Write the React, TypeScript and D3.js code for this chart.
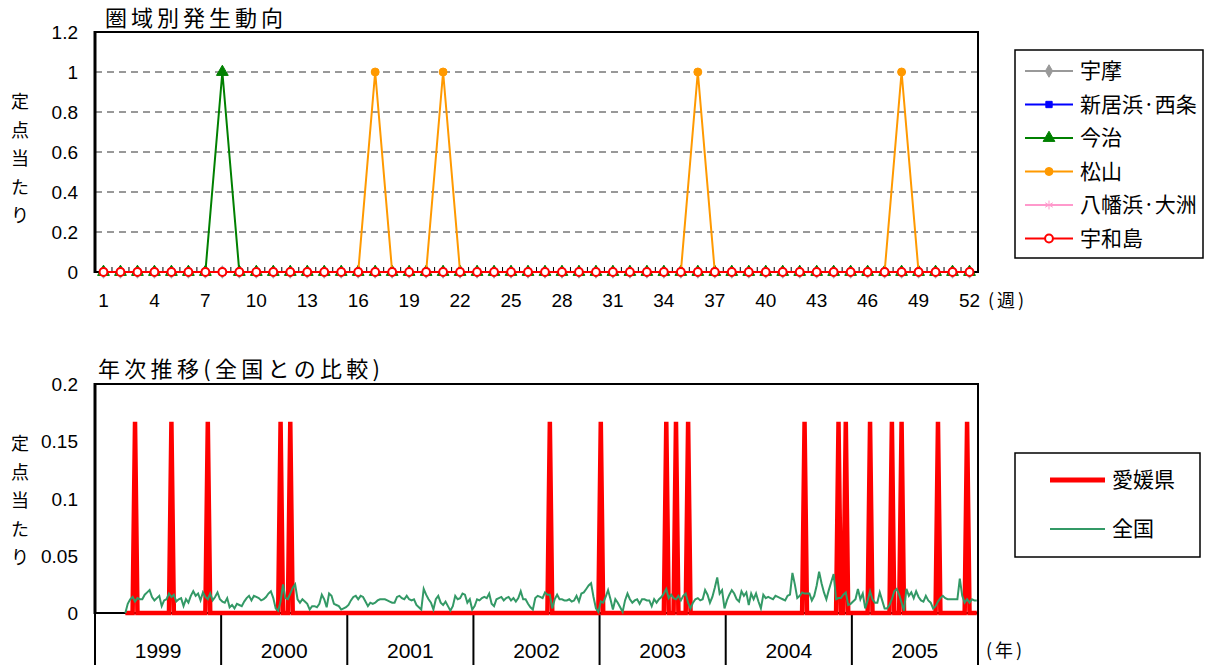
import React from "react";
import * as d3 from "d3";

const JP = "'Noto Sans CJK JP', sans-serif";
const NUM = "'Liberation Sans', Arial, sans-serif";

// ---- top chart: weekly by region (2005) ----
const weeks = d3.range(1, 53);
const weekTicks = [1, 4, 7, 10, 13, 16, 19, 22, 25, 28, 31, 34, 37, 40, 43, 46, 49, 52];
const topYTicks = [0, 0.2, 0.4, 0.6, 0.8, 1, 1.2];

const uma = [
  0, 0, 0, 0, 0, 0, 0, 0, 0, 0, 0, 0, 0,
  0, 0, 0, 0, 0, 0, 0, 0, 0, 0, 0, 0, 0,
  0, 0, 0, 0, 0, 0, 0, 0, 0, 0, 0, 0, 0,
  0, 0, 0, 0, 0, 0, 0, 0, 0, 0, 0, 0, 0,
];
const niihama = [
  0, 0, 0, 0, 0, 0, 0, 0, 0, 0, 0, 0, 0,
  0, 0, 0, 0, 0, 0, 0, 0, 0, 0, 0, 0, 0,
  0, 0, 0, 0, 0, 0, 0, 0, 0, 0, 0, 0, 0,
  0, 0, 0, 0, 0, 0, 0, 0, 0, 0, 0, 0, 0,
];
const imabari = [
  0, 0, 0, 0, 0, 0, 0, 1, 0, 0, 0, 0, 0,
  0, 0, 0, 0, 0, 0, 0, 0, 0, 0, 0, 0, 0,
  0, 0, 0, 0, 0, 0, 0, 0, 0, 0, 0, 0, 0,
  0, 0, 0, 0, 0, 0, 0, 0, 0, 0, 0, 0, 0,
];
const matsuyama = [
  0, 0, 0, 0, 0, 0, 0, 0, 0, 0, 0, 0, 0,
  0, 0, 0, 1, 0, 0, 0, 1, 0, 0, 0, 0, 0,
  0, 0, 0, 0, 0, 0, 0, 0, 0, 1, 0, 0, 0,
  0, 0, 0, 0, 0, 0, 0, 0, 1, 0, 0, 0, 0,
];
const yawatahama = [
  0, 0, 0, 0, 0, 0, 0, 0, 0, 0, 0, 0, 0,
  0, 0, 0, 0, 0, 0, 0, 0, 0, 0, 0, 0, 0,
  0, 0, 0, 0, 0, 0, 0, 0, 0, 0, 0, 0, 0,
  0, 0, 0, 0, 0, 0, 0, 0, 0, 0, 0, 0, 0,
];
const uwajima = [
  0, 0, 0, 0, 0, 0, 0, 0, 0, 0, 0, 0, 0,
  0, 0, 0, 0, 0, 0, 0, 0, 0, 0, 0, 0, 0,
  0, 0, 0, 0, 0, 0, 0, 0, 0, 0, 0, 0, 0,
  0, 0, 0, 0, 0, 0, 0, 0, 0, 0, 0, 0, 0,
];

const regions = [
  { name: "宇摩", color: "#999999", fill: "#999999", symbol: d3.symbolDiamond, size: 45, values: uma },
  { name: "新居浜·西条", color: "#0000ff", fill: "#0000ff", symbol: d3.symbolSquare, size: 40, values: niihama },
  { name: "今治", color: "#008000", fill: "#008000", symbol: d3.symbolTriangle, size: 60, values: imabari },
  { name: "松山", color: "#ff9900", fill: "#ff9900", symbol: d3.symbolCircle, size: 50, values: matsuyama },
  { name: "八幡浜·大洲", color: "#ff99cc", fill: "none", symbol: d3.symbolAsterisk, size: 55, values: yawatahama },
  { name: "宇和島", color: "#ff0000", fill: "#ffffff", symbol: d3.symbolCircle, size: 48, values: uwajima },
];

// ---- bottom chart: yearly trend, Ehime vs national ----
const years = ["1999", "2000", "2001", "2002", "2003", "2004", "2005"];
const botYTicks = [0, 0.05, 0.1, 0.15, 0.2];

const ehime1999 = [
  null, null, null, null, null, null, null, null, null, null, null, null, 0,
  0, 0, 0, 0.167, 0, 0, 0, 0, 0, 0, 0, 0, 0,
  0, 0, 0, 0, 0, 0.167, 0, 0, 0, 0, 0, 0, 0,
  0, 0, 0, 0, 0, 0, 0, 0.167, 0, 0, 0, 0, 0,
];
const ehime2000 = [
  0, 0, 0, 0, 0, 0, 0, 0, 0, 0, 0, 0, 0,
  0, 0, 0, 0, 0, 0, 0, 0, 0, 0, 0, 0.167, 0,
  0, 0, 0.167, 0, 0, 0, 0, 0, 0, 0, 0, 0, 0,
  0, 0, 0, 0, 0, 0, 0, 0, 0, 0, 0, 0, 0,
];
const ehime2001 = [
  0, 0, 0, 0, 0, 0, 0, 0, 0, 0, 0, 0, 0,
  0, 0, 0, 0, 0, 0, 0, 0, 0, 0, 0, 0, 0,
  0, 0, 0, 0, 0, 0, 0, 0, 0, 0, 0, 0, 0,
  0, 0, 0, 0, 0, 0, 0, 0, 0, 0, 0, 0, 0,
];
const ehime2002 = [
  0, 0, 0, 0, 0, 0, 0, 0, 0, 0, 0, 0, 0,
  0, 0, 0, 0, 0, 0, 0, 0, 0, 0, 0, 0, 0,
  0, 0, 0, 0, 0, 0.167, 0, 0, 0, 0, 0, 0, 0,
  0, 0, 0, 0, 0, 0, 0, 0, 0, 0, 0, 0, 0,
];
const ehime2003 = [
  0.167, 0, 0, 0, 0, 0, 0, 0, 0, 0, 0, 0, 0,
  0, 0, 0, 0, 0, 0, 0, 0, 0, 0, 0, 0, 0,
  0, 0.167, 0, 0, 0, 0.167, 0, 0, 0, 0, 0.167, 0, 0,
  0, 0, 0, 0, 0, 0, 0, 0, 0, 0, 0, 0, 0,
];
const ehime2004 = [
  0, 0, 0, 0, 0, 0, 0, 0, 0, 0, 0, 0, 0,
  0, 0, 0, 0, 0, 0, 0, 0, 0, 0, 0, 0, 0,
  0, 0, 0, 0, 0, 0, 0.167, 0, 0, 0, 0, 0, 0,
  0, 0, 0, 0, 0, 0, 0, 0.167, 0, 0, 0.167, 0, 0,
];
const ehime2005 = [
  0, 0, 0, 0, 0, 0, 0, 0.167, 0, 0, 0, 0, 0,
  0, 0, 0, 0.167, 0, 0, 0, 0.167, 0, 0, 0, 0, 0,
  0, 0, 0, 0, 0, 0, 0, 0, 0, 0.167, 0, 0, 0,
  0, 0, 0, 0, 0, 0, 0, 0, 0.167, 0, 0, 0, 0,
];

const zenkoku1999 = [
  null, null, null, null, null, null, null, null, null, null, null, null, 0,
  0.008, 0.012, 0.014, 0.010, 0.013, 0.012, 0.012, 0.016, 0.018, 0.020, 0.014, 0.011, 0.013,
  0.015, 0.006, 0.011, 0.012, 0.017, 0.014, 0.016, 0.010, 0.012, 0.013, 0.006, 0.012, 0.009,
  0.015, 0.019, 0.015, 0.017, 0.011, 0.018, 0.014, 0.012, 0.017, 0.011, 0.014, 0.018, 0.012,
];
const zenkoku2000 = [
  0.010, 0.009, 0.013, 0.005, 0.007, 0.004, 0.008, 0.007, 0.006, 0.010, 0.013, 0.015, 0.011,
  0.015, 0.014, 0.013, 0.011, 0.012, 0.014, 0.017, 0.019, 0.013, 0.004, 0.002, 0.010, 0.025,
  0.013, 0.012, 0.017, 0.022, 0.025, 0.012, 0.009, 0.012, 0.010, 0.008, 0.003, 0.006, 0.006,
  0.005, 0.008, 0.016, 0.012, 0.005, 0.017, 0.015, 0.008, 0.007, 0.006, 0.003, 0.004, 0.005,
];
const zenkoku2001 = [
  0.007, 0.011, 0.014, 0.015, 0.012, 0.015, 0.014, 0.010, 0.006, 0.009, 0.008, 0.009, 0.011,
  0.012, 0.012, 0.012, 0.011, 0.010, 0.009, 0.009, 0.014, 0.015, 0.013, 0.012, 0.015, 0.012,
  0.011, 0.012, 0.007, 0.005, 0.003, 0.021, 0.016, 0.012, 0.009, 0.003, 0.012, 0.015, 0.009,
  0.007, 0.010, 0.006, 0.002, 0.006, 0.015, 0.012, 0.013, 0.017, 0.016, 0.009, 0.012, 0.003,
];
const zenkoku2002 = [
  0.006, 0.012, 0.011, 0.013, 0.014, 0.013, 0.017, 0.008, 0.006, 0.012, 0.013, 0.014, 0.011,
  0.013, 0.014, 0.011, 0.013, 0.010, 0.013, 0.019, 0.012, 0.012, 0.008, 0.005, 0.003, 0.013,
  0.015, 0.014, 0.013, 0.018, 0.016, 0.016, 0.004, 0.012, 0.016, 0.012, 0.012, 0.011, 0.011,
  0.012, 0.010, 0.011, 0.015, 0.010, 0.017, 0.018, 0.021, 0.024, 0.026, 0.014, 0.004, 0.001,
];
const zenkoku2003 = [
  0.010, 0.009, 0.014, 0.020, 0.012, 0.003, 0.012, 0.009, 0.005, 0.001, 0.011, 0.017, 0.012,
  0.009, 0.011, 0.012, 0.008, 0.012, 0.012, 0.011, 0.011, 0.006, 0.012, 0.009, 0.012, 0.014,
  0.017, 0.021, 0.013, 0.016, 0.013, 0.012, 0.015, 0.011, 0.015, 0.017, 0.009, 0.004, 0.009,
  0.012, 0.013, 0.011, 0.012, 0.020, 0.016, 0.009, 0.014, 0.022, 0.031, 0.017, 0.020, 0.004,
];
const zenkoku2004 = [
  0.011, 0.016, 0.020, 0.017, 0.012, 0.010, 0.019, 0.015, 0.018, 0.007, 0.017, 0.012, 0.017,
  0.010, 0.004, 0.016, 0.013, 0.014, 0.013, 0.012, 0.015, 0.014, 0.013, 0.012, 0.011, 0.015,
  0.016, 0.035, 0.025, 0.013, 0.015, 0.018, 0.017, 0.017, 0.017, 0.011, 0.015, 0.024, 0.036,
  0.026, 0.018, 0.012, 0.020, 0.027, 0.034, 0.012, 0.013, 0.013, 0.016, 0.018, 0.007, 0.008,
];
const zenkoku2005 = [
  0.010, 0.012, 0.021, 0.012, 0.017, 0.004, 0.011, 0.019, 0.012, 0.009, 0.009, 0.018, 0.011,
  0.004, 0.004, 0.007, 0.012, 0.019, 0.021, 0.016, 0.009, 0.002, 0.021, 0.015, 0.018, 0.013,
  0.019, 0.014, 0.011, 0.010, 0.015, 0.011, 0.009, 0.004, 0.006, 0.010, 0.013, 0.015, 0.013,
  0.012, 0.012, 0.012, 0.012, 0.012, 0.030, 0.015, 0.009, 0.012, 0.009, 0.012, 0.011, 0.011,
];

const ehime = [...ehime1999, ...ehime2000, ...ehime2001, ...ehime2002, ...ehime2003, ...ehime2004, ...ehime2005];
const zenkoku = [
  ...zenkoku1999, ...zenkoku2000, ...zenkoku2001, ...zenkoku2002, ...zenkoku2003, ...zenkoku2004, ...zenkoku2005,
];

function VerticalTitle({ x, y, step }: { x: number; y: number; step: number }) {
  return (
    <g fontFamily={JP} fontSize={18} textAnchor="middle">
      {"定点当たり".split("").map((c, i) => (
        <text key={i} x={x} y={y + i * step}>
          {c}
        </text>
      ))}
    </g>
  );
}

function TopChart() {
  const left = 95, right = 978, top = 32, bottom = 272;
  const x = d3.scaleBand<number>().domain(weeks).range([left, right]);
  const y = d3.scaleLinear().domain([0, 1.2]).range([bottom, top]);
  const cx = (w: number) => (x(w) as number) + x.bandwidth() / 2;
  const line = d3
    .line<number>()
    .x((d, i) => cx(weeks[i]))
    .y((d) => y(d));

  return (
    <g>
      <text x={105} y={26} fontFamily={JP} fontSize={22} textLength={178} lengthAdjust="spacing">
        圏域別発生動向
      </text>
      {topYTicks.slice(1, -1).map((t) => (
        <line key={t} x1={left} x2={right} y1={y(t)} y2={y(t)} stroke="#333" strokeDasharray="7,5" />
      ))}
      <rect x={left} y={top} width={right - left} height={bottom - top} fill="none" stroke="#000" strokeWidth={2} />
      <line x1={left} x2={left} y1={top - 1} y2={bottom + 1} stroke="#000" strokeWidth={3} />
      {weeks.slice(1).map((w) => (
        <line key={w} x1={x(w)} x2={x(w)} y1={bottom} y2={bottom - 5} stroke="#000" />
      ))}
      {topYTicks.map((t) => (
        <text key={t} x={78} y={y(t) + 7} textAnchor="end" fontFamily={NUM} fontSize={19}>
          {t}
        </text>
      ))}
      {weekTicks.map((w) => (
        <text key={w} x={cx(w)} y={307} textAnchor="middle" fontFamily={NUM} fontSize={19}>
          {w}
        </text>
      ))}
      <text x={988} y={307} fontFamily={JP} fontSize={18} letterSpacing={3}>
        (週)
      </text>
      <VerticalTitle x={20} y={108} step={28.5} />

      {regions.map((r) => {
        const sym = d3.symbol().type(r.symbol).size(r.size)();
        return (
          <g key={r.name}>
            <path d={line(r.values) ?? ""} fill="none" stroke={r.color} strokeWidth={2} />
            {r.values.map((v, i) => (
              <path
                key={i}
                d={sym ?? ""}
                transform={`translate(${cx(weeks[i])},${y(v)})`}
                fill={r.fill}
                stroke={r.color}
                strokeWidth={r.name === "宇和島" ? 2 : 1}
              />
            ))}
          </g>
        );
      })}

      {/* legend */}
      <rect x={1015} y={50} width={188} height={208} fill="#fff" stroke="#000" strokeWidth={1.5} />
      {regions.map((r, i) => {
        const ly = 71 + i * 33.5;
        const sym = d3.symbol().type(r.symbol).size(r.size)();
        return (
          <g key={r.name}>
            <line x1={1025} x2={1073} y1={ly} y2={ly} stroke={r.color} strokeWidth={2} />
            <path
              d={sym ?? ""}
              transform={`translate(1049,${ly})`}
              fill={r.fill}
              stroke={r.color}
              strokeWidth={r.name === "宇和島" ? 2 : 1}
            />
            <text x={1080} y={ly + 7} fontFamily={JP} fontSize={21}>
              {r.name}
            </text>
          </g>
        );
      })}
    </g>
  );
}

function BottomChart() {
  const left = 95, right = 978, top = 384, bottom = 613;
  const x = d3.scaleBand<number>().domain(d3.range(ehime.length)).range([left, right]);
  const xYear = d3.scaleBand<string>().domain(years).range([left, right]);
  const y = d3.scaleLinear().domain([0, 0.2]).range([bottom, top]);
  const line = d3
    .line<number | null>()
    .defined((d) => d != null)
    .x((d, i) => (x(i) as number) + x.bandwidth() / 2)
    .y((d) => y(d as number));

  return (
    <g>
      <text x={98} y={377} fontFamily={JP} fontSize={22} textLength={282} lengthAdjust="spacing">
        年次推移(全国との比較)
      </text>
      <rect x={left} y={top} width={right - left} height={bottom - top} fill="none" stroke="#000" strokeWidth={2} />
      <line x1={left} x2={left} y1={top - 1} y2={bottom + 1} stroke="#000" strokeWidth={3} />
      {botYTicks.map((t) => (
        <text key={t} x={78} y={y(t) + 7} textAnchor="end" fontFamily={NUM} fontSize={19}>
          {t}
        </text>
      ))}
      <VerticalTitle x={20} y={450} step={28.5} />

      {[...years.map((yr) => xYear(yr) as number), right].map((bx, i) => (
        <line key={i} x1={bx} x2={bx} y1={bottom} y2={665} stroke="#000" strokeWidth={2} />
      ))}
      {years.map((yr) => (
        <text
          key={yr}
          x={(xYear(yr) as number) + xYear.bandwidth() / 2}
          y={658}
          textAnchor="middle"
          fontFamily={NUM}
          fontSize={21}
        >
          {yr}
        </text>
      ))}
      <text x={986} y={657} fontFamily={JP} fontSize={18} letterSpacing={3}>
        (年)
      </text>

      <path d={line(ehime) ?? ""} fill="none" stroke="#ff0000" strokeWidth={4.5} strokeLinejoin="miter" />
      <path d={line(zenkoku) ?? ""} fill="none" stroke="#339966" strokeWidth={2} />

      {/* legend */}
      <rect x={1015} y={453} width={185} height={104} fill="#fff" stroke="#000" strokeWidth={1.5} />
      <line x1={1050} x2={1105} y1={480} y2={480} stroke="#ff0000" strokeWidth={5} />
      <text x={1112} y={487} fontFamily={JP} fontSize={21}>
        愛媛県
      </text>
      <line x1={1050} x2={1105} y1={529} y2={529} stroke="#339966" strokeWidth={2} />
      <text x={1112} y={536} fontFamily={JP} fontSize={21}>
        全国
      </text>
    </g>
  );
}

export default function App() {
  return (
    <svg width={1208} height={665} style={{ position: "absolute", left: 0, top: 0, background: "#fff" }}>
      <TopChart />
      <BottomChart />
    </svg>
  );
}
